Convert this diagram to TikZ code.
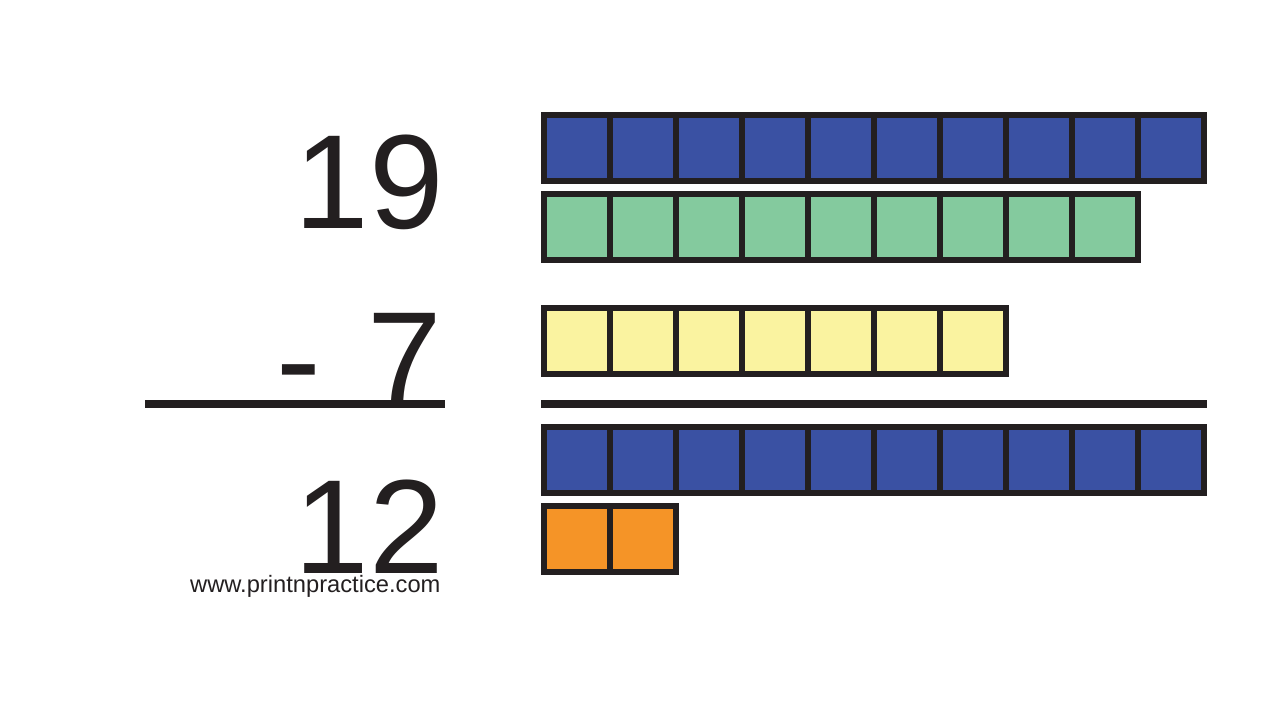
\documentclass[tikz,border=0pt]{standalone}
\usepackage{fontspec}
\setmainfont{Liberation Sans}
\usetikzlibrary{positioning}
\definecolor{ink}{HTML}{231F20}
\definecolor{tenblue}{HTML}{3A51A3}
\definecolor{mint}{HTML}{84CA9E}
\definecolor{lemon}{HTML}{FAF3A0}
\definecolor{peel}{HTML}{F59427}

\begin{document}
\begin{tikzpicture}[x=1pt,y=-1pt,
  unit/.style={draw=ink,line width=6pt,minimum size=66pt,inner sep=0pt,fill=#1},
  bignum/.style={font=\fontsize{134}{134}\selectfont,inner sep=0pt,anchor=base east,text=ink},
  bar/.style={draw=ink,line width=8pt}]
\useasboundingbox (0,0) rectangle (1280,720);

% numbers on the left
\node [bignum] (top) at (444,228) {19};
\node [bignum] (sub) at (442.5,405) {-\hspace{47pt}7};
\node [bignum] (res) at (444,573) {12};
\node [font=\fontsize{23.7}{24}\selectfont,inner sep=0pt,anchor=base west,text=ink] (url) at (190,592) {www.printnpractice.com};

% bars under the sum
\coordinate (l1) at (145,404);
\coordinate (l2) at (445,404);
\coordinate (r1) at (541,404);
\coordinate (r2) at (1207,404);
\draw [bar] (l1) -- (l2);
\draw [bar] (r1) -- (r2);

% blocks
\foreach \i in {1,...,10}
  \node [unit=tenblue] (ten-\i) at ({577+66*(\i-1)},148) {};
\foreach \i in {1,...,9}
  \node [unit=mint] (nine-\i) at ({577+66*(\i-1)},227) {};
\foreach \i in {1,...,7}
  \node [unit=lemon] (seven-\i) at ({577+66*(\i-1)},341) {};
\foreach \i in {1,...,10}
  \node [unit=tenblue] (tens-\i) at ({577+66*(\i-1)},460) {};
\foreach \i in {1,2}
  \node [unit=peel] (ones-\i) at ({577+66*(\i-1)},539) {};

\end{tikzpicture}
\end{document}
